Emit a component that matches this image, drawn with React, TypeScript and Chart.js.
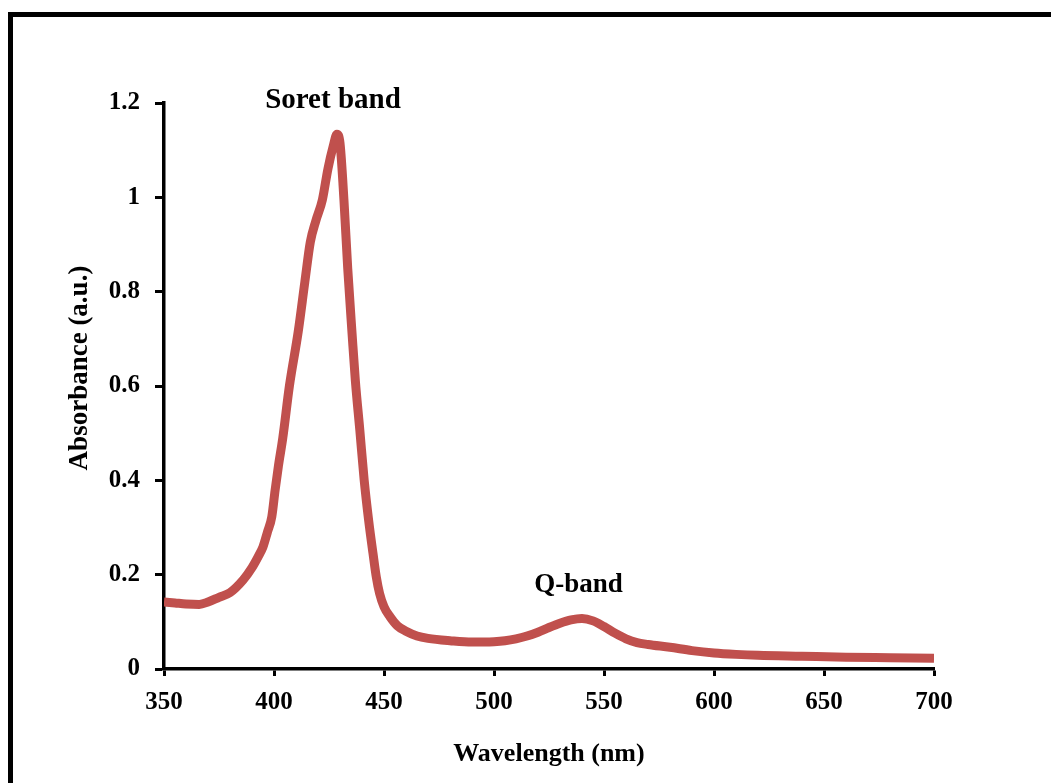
import React, { useEffect, useRef } from 'react';
import { Chart, registerables } from 'chart.js';

Chart.register(...registerables);

// ---- Data ----
const wavelengths = [
  350, 355, 360, 366, 370, 375, 380, 386, 390, 393, 395, 397, 399, 400.5, 402, 404, 407, 411, 414, 416.5,
  419, 422, 424.5, 427, 428.6, 430, 431.8, 433.5, 435.5, 437, 439, 441, 443, 445, 446.5, 448, 450, 452.7,
  456, 460, 465, 470, 480, 490, 500, 505, 510, 515, 520, 525, 530, 535, 540, 545, 550, 555, 560, 565,
  570, 580, 590, 600, 610, 620, 640, 660, 680, 700,
];
const absorbance = [
  0.142, 0.14, 0.138, 0.137, 0.142, 0.152, 0.162, 0.189, 0.215, 0.24, 0.259, 0.29, 0.323, 0.379, 0.43, 0.49, 0.6, 0.715, 0.82, 0.905,
  0.95, 0.995, 1.06, 1.11, 1.134, 1.115, 0.994, 0.85, 0.71, 0.61, 0.507, 0.4, 0.316, 0.245, 0.195, 0.16, 0.132, 0.111,
  0.092, 0.08, 0.07, 0.065, 0.06, 0.057, 0.058, 0.06, 0.064, 0.07, 0.078, 0.088, 0.097, 0.104, 0.107, 0.102, 0.09, 0.076, 0.064, 0.056,
  0.052, 0.046, 0.039, 0.034, 0.031, 0.029, 0.027, 0.025, 0.024, 0.023,
];
const xTickValues = [350, 400, 450, 500, 550, 600, 650, 700];
const yTickLabels = ['0', '0.2', '0.4', '0.6', '0.8', '1', '1.2'];
const annotationTexts = ['Soret band', 'Q-band'];
const annotationX = [426.8, 538.4];
const annotationY = [1.189, 0.163];
const annotationSizes = [29, 27];
const xTitle = 'Wavelength (nm)';
const yTitle = 'Absorbance (a.u.)';

const FAMILY = '"Liberation Serif", "Times New Roman", serif';
const LINE_COLOR = '#C0504D';

const overlayPlugin = {
  id: 'overlay',
  afterDraw(chart: any) {
    const { ctx, scales } = chart;
    ctx.save();
    ctx.fillStyle = '#000';
    // annotations
    ctx.textAlign = 'center';
    ctx.textBaseline = 'alphabetic';
    annotationTexts.forEach((t, i) => {
      ctx.font = `bold ${annotationSizes[i]}px ${FAMILY}`;
      const px = scales.x.getPixelForValue(annotationX[i]);
      const py = scales.y.getPixelForValue(annotationY[i]);
      ctx.fillText(t, px, py);
    });
    // y title
    ctx.font = `bold 27px ${FAMILY}`;
    ctx.textBaseline = 'middle';
    ctx.translate(80, 368);
    ctx.rotate(-Math.PI / 2);
    ctx.fillText(yTitle, 0, 0);
    ctx.restore();
  },
};

export default function App() {
  const ref = useRef<HTMLCanvasElement | null>(null);

  useEffect(() => {
    if (!ref.current) return;
    const tickFont = { family: FAMILY, size: 25, weight: 'bold' as const };
    const chart = new Chart(ref.current, {
      type: 'line',
      data: {
        datasets: [
          {
            data: wavelengths.map((w, i) => ({ x: w, y: absorbance[i] })),
            borderColor: LINE_COLOR,
            backgroundColor: LINE_COLOR,
            borderWidth: 9,
            pointRadius: 0,
            fill: false,
            cubicInterpolationMode: 'monotone',
            borderJoinStyle: 'round',
            borderCapStyle: 'butt',
          },
        ],
      },
      options: {
        responsive: false,
        animation: false,
        devicePixelRatio: 1,
        layout: { padding: { left: 0, top: 103, right: 117, bottom: 0 } },
        plugins: { legend: { display: false }, tooltip: { enabled: false }, title: { display: false } },
        scales: {
          x: {
            type: 'linear',
            min: 350,
            max: 700,
            afterBuildTicks: (s: any) => {
              s.ticks = xTickValues.map((v) => ({ value: v }));
            },
            afterFit: (s: any) => {
              s.height = 114;
            },
            ticks: { font: tickFont, color: '#000', padding: 12, maxRotation: 0, autoSkip: false },
            grid: { display: true, drawOnChartArea: false, drawTicks: true, tickLength: 7, tickWidth: 3, tickColor: '#000' },
            border: { display: true, color: '#000', width: 3.5 },
            title: {
              display: true,
              text: xTitle,
              color: '#000',
              font: { family: FAMILY, size: 26, weight: 'bold' },
              padding: { top: 0, bottom: 13 },
            },
          },
          y: {
            type: 'linear',
            min: 0,
            max: 1.2,
            afterBuildTicks: (s: any) => {
              s.ticks = yTickLabels.map((l) => ({ value: parseFloat(l) }));
            },
            afterFit: (s: any) => {
              s.width = 164;
            },
            ticks: {
              font: tickFont,
              color: '#000',
              padding: 15,
              autoSkip: false,
              callback: (_v: any, i: number) => yTickLabels[i],
            },
            grid: { display: true, drawOnChartArea: false, drawTicks: true, tickLength: 9, tickWidth: 3, tickColor: '#000' },
            border: { display: true, color: '#000', width: 3.5 },
          },
        },
      },
      plugins: [overlayPlugin],
    } as any);
    return () => chart.destroy();
  }, []);

  return (
    <div style={{ position: 'fixed', left: 0, top: 0, width: 1051, height: 783, overflow: 'hidden', background: '#fff' }}>
      <div
        style={{
          position: 'absolute',
          left: 8,
          top: 12,
          width: 1200,
          height: 1000,
          borderLeft: '5px solid #000',
          borderTop: '5px solid #000',
        }}
      />
      <canvas ref={ref} width={1051} height={783} style={{ position: 'absolute', left: 0, top: 0, width: 1051, height: 783 }} />
    </div>
  );
}
